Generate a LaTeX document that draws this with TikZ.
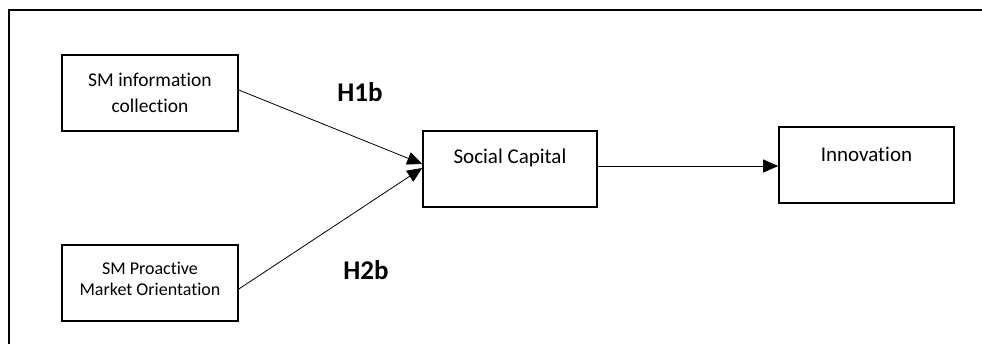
\documentclass[tikz,border=0pt]{standalone}
\usepackage{fontspec}
\setmainfont[Ligatures=NoCommon]{Carlito}
\usetikzlibrary{arrows.meta}
\begin{document}
\begin{tikzpicture}[x=1pt,y=-1pt,
  box/.style={draw, line width=1.6pt, inner sep=0pt},
  txt/.style={font=\fontsize{19.5}{26}\selectfont, align=center, inner sep=0pt},
  bigtxt/.style={font=\fontsize{21}{26}\selectfont, align=center, inner sep=0pt},
  smalltxt/.style={font=\fontsize{18}{21}\selectfont, align=center, inner sep=0pt},
  hyp/.style={font=\bfseries\fontsize{27}{30}\selectfont, inner sep=0pt},
  link/.style={line width=0.8pt, -{Triangle[length=15pt,width=13pt]}}]
\useasboundingbox (0,0) rectangle (982,344);
% outer frame, running past the right and bottom edges
\draw[line width=1.4pt] (9,400) -- (9,10) -- (1000,10);
% construct boxes
\node[box, minimum width=176pt, minimum height=76pt] (ic) at (150,93) {};
\node[txt] (ict) at (150,93) {SM information\\collection};
\node[box, minimum width=176pt, minimum height=76pt] (pmo) at (150,283) {};
\node[smalltxt] (pmot) at (150,279) {SM Proactive\\Market Orientation};
\node[box, minimum width=174pt, minimum height=76pt] (sc) at (510,169) {};
\node[bigtxt] (sct) at (510,158) {Social Capital};
\node[box, minimum width=175pt, minimum height=76pt] (inn) at (866.5,165) {};
\node[bigtxt] (innt) at (866.5,154) {Innovation};
% hypothesis labels
\node[hyp] (h1) at (360,92) {H1b};
\node[hyp] (h2) at (366,270) {H2b};
% paths
\draw[link] ([yshift=3pt]ic.east) -- ([yshift=5pt]sc.west);
\draw[link] ([yshift=-6pt]pmo.east) -- ([yshift=1pt]sc.west);
\coordinate (s3) at ([yshift=3pt]sc.east);
\draw[link] (s3) -- (s3 -| inn.west);
\end{tikzpicture}
\end{document}
